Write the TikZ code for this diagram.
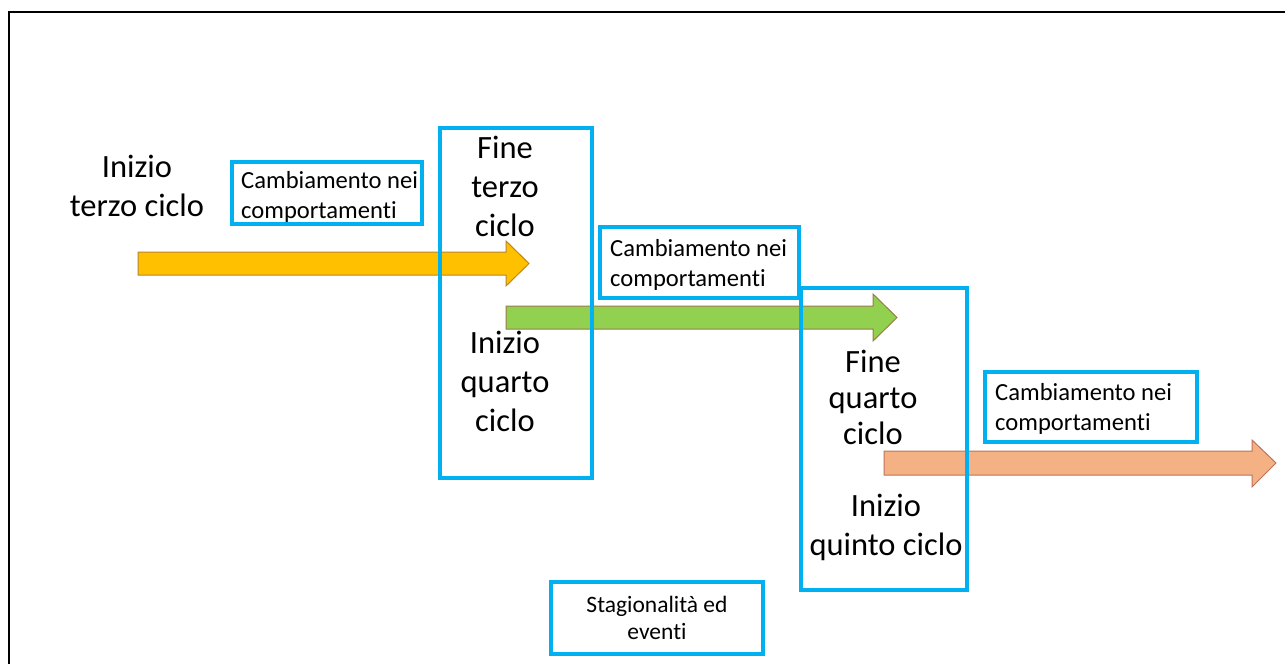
\documentclass[tikz,border=0pt]{standalone}
\usepackage{fontspec}
\setmainfont{Carlito}[Ligatures=NoCommon]
\definecolor{boxcyan}{HTML}{00B0F0}
\definecolor{orfill}{HTML}{FFC000}
\definecolor{ordraw}{HTML}{B8862B}
\definecolor{grfill}{HTML}{92D050}
\definecolor{grdraw}{HTML}{9C7A4A}
\definecolor{safill}{HTML}{F4B183}
\definecolor{sadraw}{HTML}{C0735A}
\begin{document}
\begin{tikzpicture}[x=1pt,y=-1pt,
  bigtxt/.style={align=center,inner sep=0pt,font=\fontsize{32.5}{39}\selectfont},
  smalltxt/.style={align=left,inner sep=0pt,font=\fontsize{24.6}{29.5}\selectfont},
  cbox/.style={draw=boxcyan,line width=3.5pt},
  arr/.style={line width=1pt,line join=miter}]
\useasboundingbox (0,0) rectangle (1285,664);
\fill[white] (0,0) rectangle (1285,664);
% frame
\draw[line width=2pt] (9,664) coordinate (fbl) -- (9,12) coordinate (ftl) -- (1285,12) coordinate (ftr);
% arrows
\draw[arr,fill=orfill,draw=ordraw] (138,252) -- (506,252) -- (506,241) -- (529,263.5) -- (506,286) -- (506,275) -- (138,275) -- cycle;
\draw[arr,fill=grfill,draw=grdraw] (506,306) -- (873,306) -- (873,294) -- (897,317.5) -- (873,341) -- (873,329) -- (506,329) -- cycle;
\draw[arr,fill=safill,draw=sadraw] (884,451) -- (1252,451) -- (1252,440) -- (1276,463) -- (1252,487) -- (1252,475) -- (884,475) -- cycle;
% texts
\node[bigtxt] (t1) at (137,186) {Inizio\\terzo ciclo};
\node[bigtxt] (t2) at (505,186) {Fine\\terzo\\ciclo};
\node[bigtxt] (t3) at (505,381) {Inizio\\quarto\\ciclo};
\node[bigtxt,font=\fontsize{32.5}{36}\selectfont] (t4) at (873,397) {Fine\\quarto\\ciclo};
\node[bigtxt] (t5) at (886,527) {Inizio\\quinto ciclo};
% boxes
\node[cbox,minimum width=152pt,minimum height=350pt,inner sep=0pt] (B1) at (516,303) {};
\node[cbox,minimum width=166pt,minimum height=302pt,inner sep=0pt] (B2) at (884,439) {};
\node[cbox,minimum width=190pt,minimum height=62pt,inner sep=0pt] (c1) at (327,193) {};
\node[smalltxt,anchor=west] (c1t) at (241,197) {Cambiamento nei\\comportamenti};
\node[cbox,minimum width=199pt,minimum height=71pt,inner sep=0pt] (c2) at (699.5,262.5) {};
\node[smalltxt,anchor=west] (c2t) at (610,265) {Cambiamento nei\\comportamenti};
\node[cbox,minimum width=212pt,minimum height=70pt,inner sep=0pt] (c3) at (1091,407) {};
\node[smalltxt,anchor=west] (c3t) at (995,409) {Cambiamento nei\\comportamenti};
\node[cbox,minimum width=212pt,minimum height=72pt,inner sep=0pt] (c4) at (657,618) {};
\node[smalltxt,align=center,font=\fontsize{23.5}{27}\selectfont] (c4t) at (657,618) {Stagionalità ed\\eventi};
\end{tikzpicture}
\end{document}
